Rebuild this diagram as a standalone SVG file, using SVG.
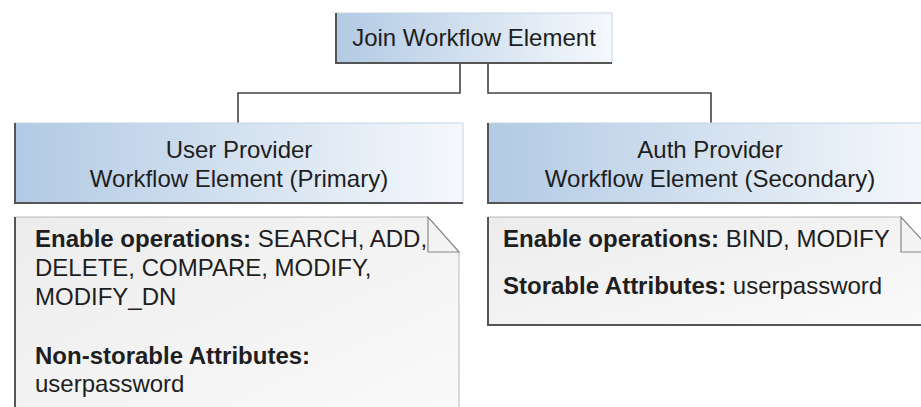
<svg xmlns="http://www.w3.org/2000/svg" width="921" height="407" viewBox="0 0 921 407">
<defs>
<linearGradient id="blue" x1="0" y1="0" x2="1" y2="0">
<stop offset="0" stop-color="#b2cae4"/>
<stop offset="1" stop-color="#f5f8fc"/>
</linearGradient>
<linearGradient id="gray" x1="0" y1="0" x2="1" y2="1">
<stop offset="0" stop-color="#ececec"/>
<stop offset="1" stop-color="#fafafa"/>
</linearGradient>
<style>
.box{fill:url(#blue);stroke:#c3d3e6;stroke-width:1}
.note{fill:url(#gray);stroke:#b8b8b8;stroke-width:1}
.shadow{fill:none;stroke:#555;stroke-width:2}
.fold{fill:#f4f4f4;stroke:#888;stroke-width:1.2}
.conn{fill:none;stroke:#444;stroke-width:1.6}
text{font-family:"Liberation Sans",Arial,sans-serif;fill:#1e1e1e;font-size:24px}
.c{text-anchor:middle}
.b{font-weight:bold}
</style>
</defs>
<g id="connectors">
<path class="conn" d="M460,63 V93 H238 V123"/>
<path class="conn" d="M488,63 V93 H711 V123"/>
</g>
<g id="join">
<rect class="box" x="336" y="13" width="276" height="50"/>
<path class="shadow" d="M336,13 V63 H612"/>
<text class="c" x="474" y="46">Join Workflow Element</text>
</g>
<g id="user-provider">
<rect class="box" x="15" y="123" width="448" height="80"/>
<path class="shadow" d="M15,123 V203 H463"/>
<text class="c" x="239" y="158">User Provider</text>
<text class="c" x="239" y="187">Workflow Element (Primary)</text>
</g>
<g id="auth-provider">
<rect class="box" x="488" y="123" width="445" height="80"/>
<path class="shadow" d="M488,123 V203 H933"/>
<text class="c" x="710" y="158">Auth Provider</text>
<text class="c" x="710" y="187">Workflow Element (Secondary)</text>
</g>
<g id="user-note">
<path class="note" d="M15,217 H428 L459,252 V420 H15 Z"/>
<path class="shadow" d="M15,217 V420"/>
<path class="fold" d="M428,217 V252 H459 Z"/>
<text x="35" y="247"><tspan class="b">Enable operations:</tspan> SEARCH, ADD,</text>
<text x="35" y="276">DELETE, COMPARE, MODIFY,</text>
<text x="35" y="305">MODIFY_DN</text>
<text x="35" y="364" class="b">Non-storable Attributes:</text>
<text x="35" y="392">userpassword</text>
</g>
<g id="auth-note">
<path class="note" d="M488,217 H901 L933,252 V325 H488 Z"/>
<path class="shadow" d="M488,217 V325 H933"/>
<path class="fold" d="M901,217 V252 H933 Z"/>
<text x="503" y="247"><tspan class="b">Enable operations:</tspan> BIND, MODIFY</text>
<text x="503" y="294"><tspan class="b">Storable Attributes:</tspan> userpassword</text>
</g>
</svg>
